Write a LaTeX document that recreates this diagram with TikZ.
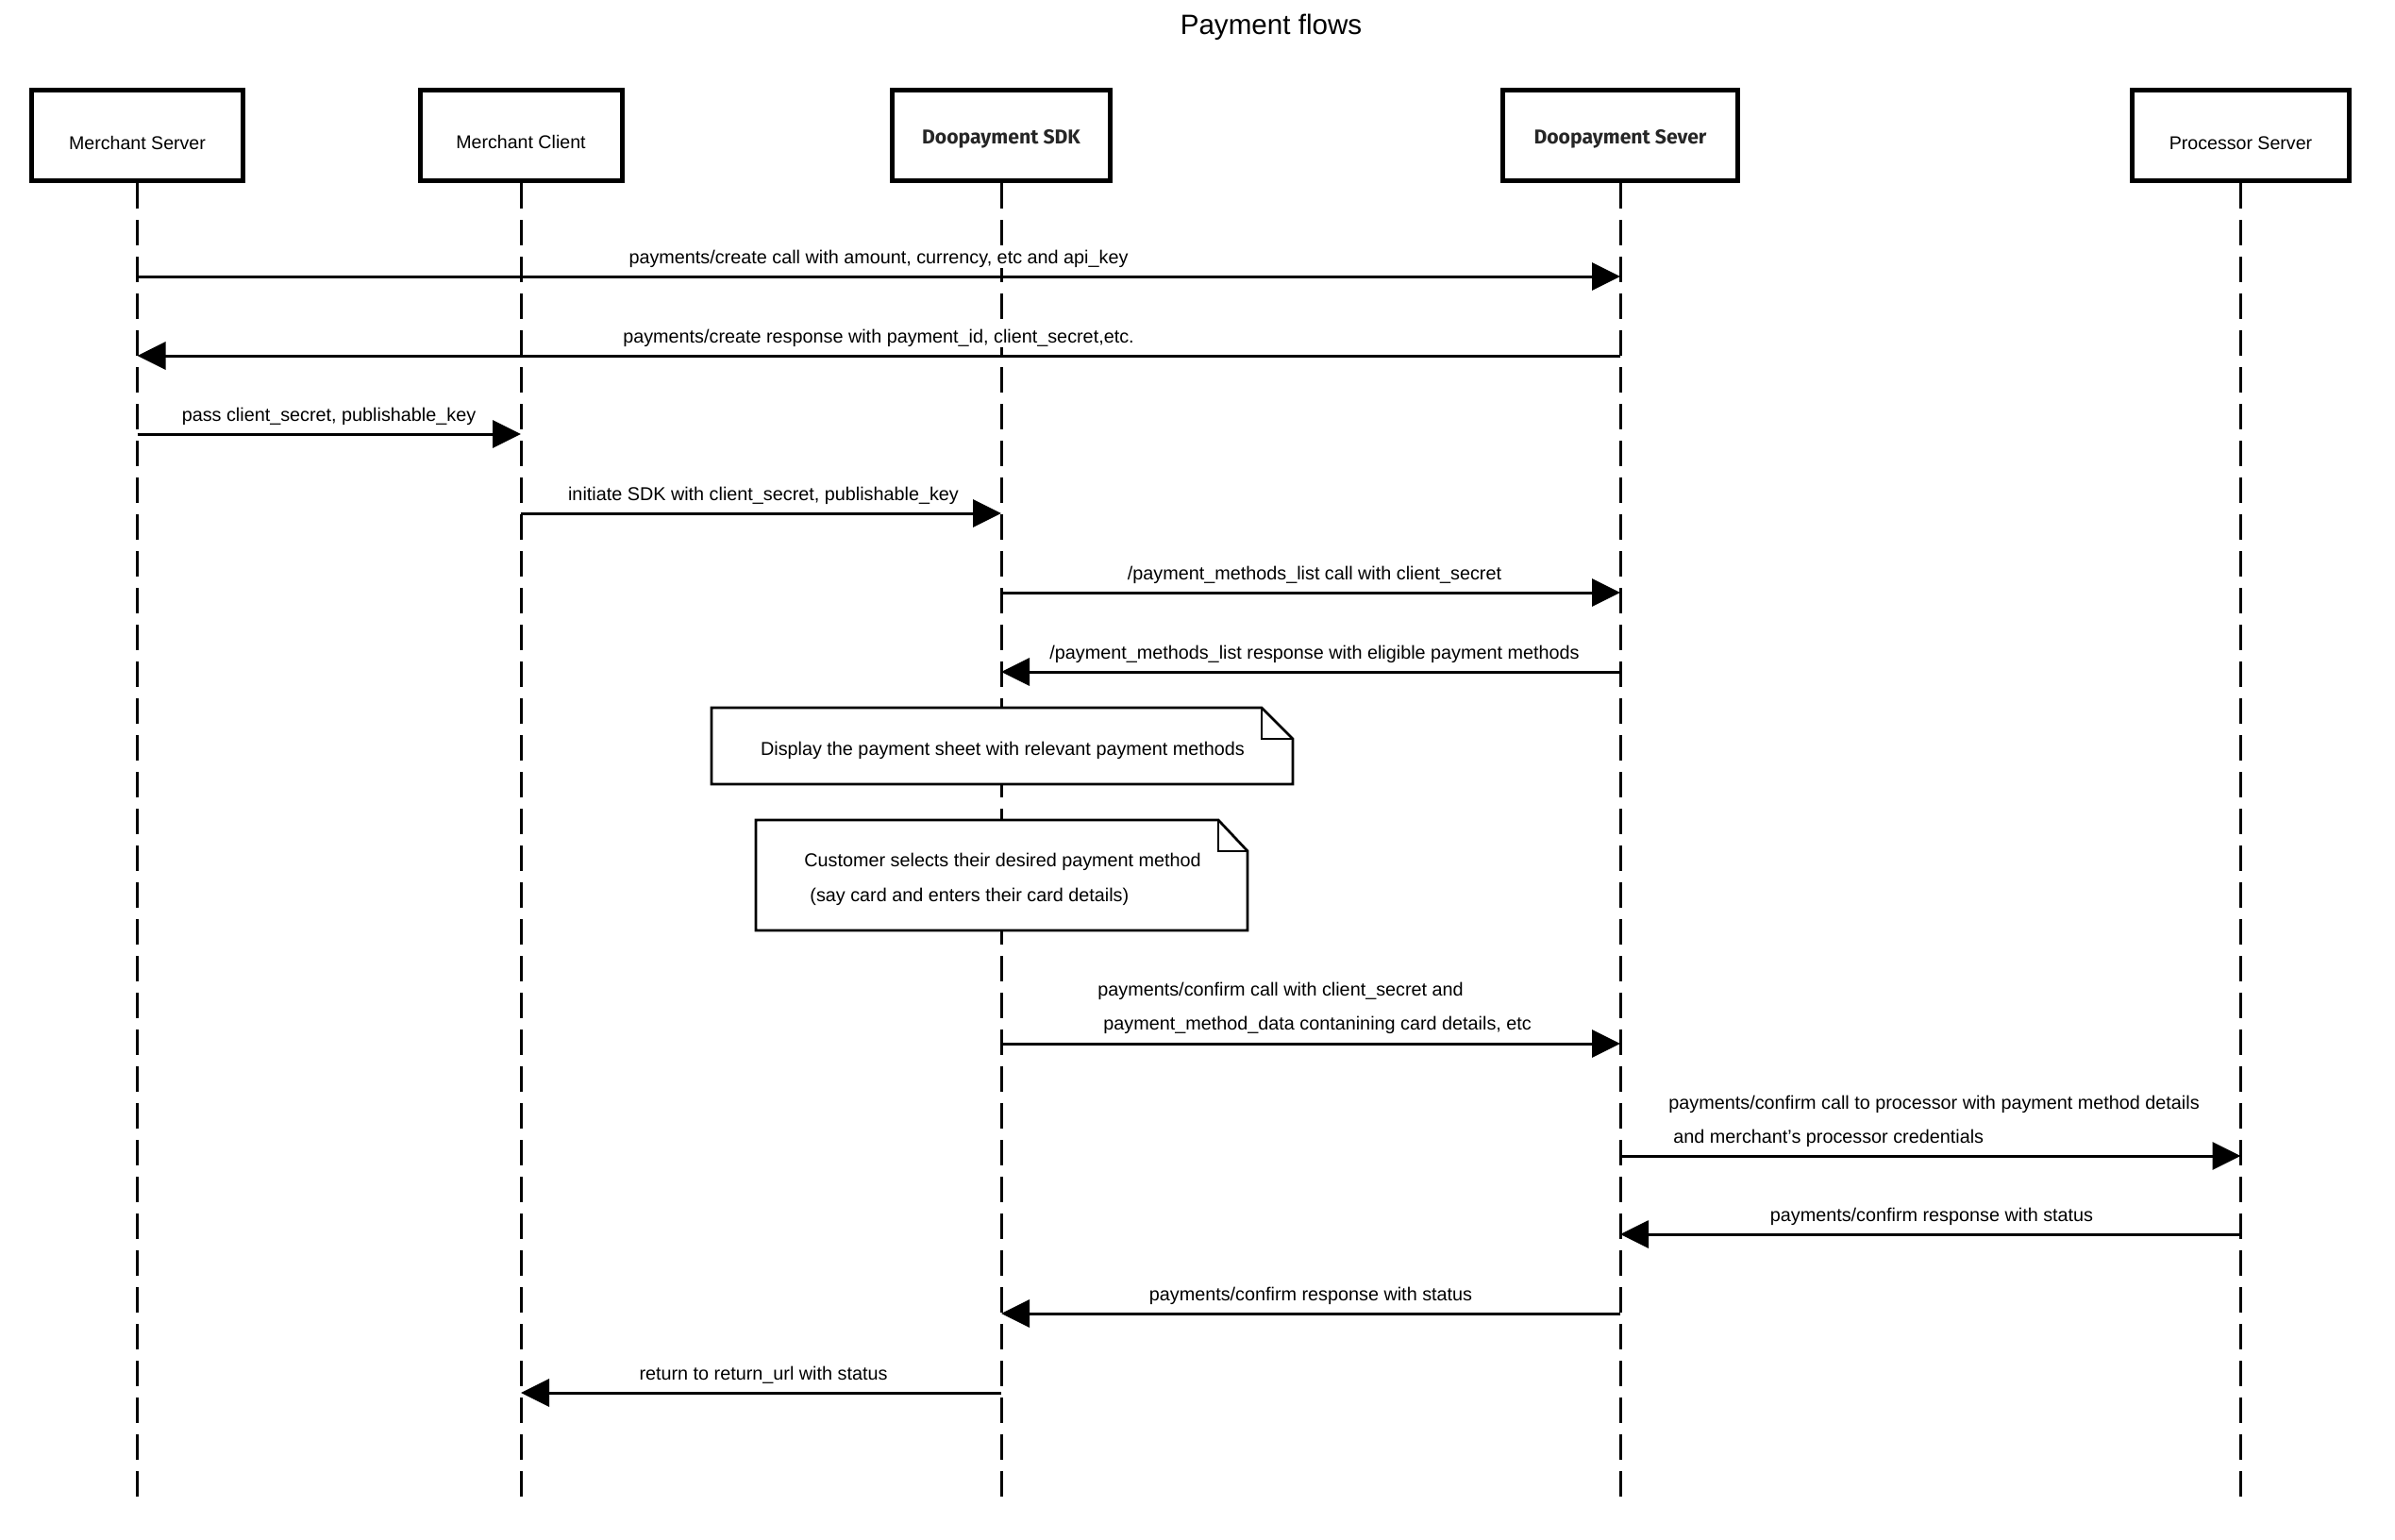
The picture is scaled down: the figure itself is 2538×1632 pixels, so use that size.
\documentclass[tikz,border=0pt]{standalone}
\usepackage{fontspec}
\setmainfont{Liberation Sans}
\newfontfamily\firab{Fira Sans}
\usetikzlibrary{arrows.meta}
\begin{document}
\begin{tikzpicture}[x=0.5pt,y=-0.5pt,
  actor/.style={draw=black, line width=2.5pt, fill=white, minimum height=48pt, inner sep=0pt},
  atext/.style={font=\fontsize{9.8pt}{12pt}\selectfont, anchor=base, inner sep=0pt},
  btext/.style={font=\firab\bfseries\fontsize{10.6pt}{12pt}\selectfont, anchor=base, inner sep=0pt, text=black!85},
  life/.style={line width=1.5pt, dash pattern=on 13.5pt off 6pt},
  msg/.style={line width=1.5pt, -{Triangle[length=15pt,width=14.5pt]}},
  lbl/.style={font=\fontsize{9.9pt}{12pt}\selectfont, inner sep=0.5pt, anchor=base, fill=white},
  lblw/.style={lbl, anchor=base west},
  notebox/.style={inner sep=0pt, draw=none},
  noteline/.style={line width=1.35pt, fill=white, line join=miter}
]
\useasboundingbox (0,0) rectangle (2538,1632);

% title
\node[font=\fontsize{14.8pt}{18pt}\selectfont, anchor=base, inner sep=0pt] (title) at (1347,37) {Payment flows};

% actor boxes
\node[actor, minimum width=112pt] (ms) at (145.5,143.5) {};
\node[actor, minimum width=107pt] (mc) at (552,143.5) {};
\node[actor, minimum width=115.5pt] (sdk) at (1061,143.5) {};
\node[actor, minimum width=124.5pt] (sev) at (1717,143.5) {};
\node[actor, minimum width=115pt] (ps) at (2374.5,143.5) {};

% lifeline ends
\coordinate (msE) at (145.5,1596);
\coordinate (mcE) at (552,1596);
\coordinate (sdkE) at (1061,1596);
\coordinate (sevE) at (1717,1596);
\coordinate (psE) at (2374.5,1596);

\draw[life] (ms.south) -- (msE);
\draw[life] (mc.south) -- (mcE);
\draw[life] (sdk.south) -- (sdkE);
\draw[life] (sev.south) -- (sevE);
\draw[life] (ps.south) -- (psE);

% redraw boxes on top of lifelines
\node[actor, minimum width=112pt] at (ms.center) {};
\node[actor, minimum width=107pt] at (mc.center) {};
\node[actor, minimum width=115.5pt] at (sdk.center) {};
\node[actor, minimum width=124.5pt] at (sev.center) {};
\node[actor, minimum width=115pt] at (ps.center) {};

\node[atext] (mst) at (145.5,158) {Merchant Server};
\node[atext] (mct) at (552,157) {Merchant Client};
\node[btext] (sdkt) at (1061,153) {Doopayment SDK};
\node[btext] (sevt) at (1717,153) {Doopayment Sever};
\node[atext] (pst) at (2374.5,158) {Processor Server};

% message labels (white background hides lifelines behind them)
\node[lbl] (l1) at (931,279) {payments/create call with amount, currency, etc and api\_key};
\node[lbl] (l2) at (931,363) {payments/create response with payment\_id, client\_secret,etc.};
\node[lbl] (l3) at (348.5,446) {pass client\_secret, publishable\_key};
\node[lbl] (l4) at (809,530) {initiate SDK with client\_secret, publishable\_key};
\node[lbl] (l5) at (1393,614) {/payment\_methods\_list call with client\_secret};
\node[lbl] (l6) at (1393,698) {/payment\_methods\_list response with eligible payment methods};
\node[lblw] (l9a) at (1162,1055) {payments/confirm call with client\_secret and};
\node[lblw] (l9b) at (1168,1091) {payment\_method\_data contanining card details, etc};
\node[lblw] (l10a) at (1767,1175) {payments/confirm call to processor with payment method details};
\node[lblw] (l10b) at (1772,1211) {and merchant's processor credentials};
\node[lbl] (l11) at (2047,1294) {payments/confirm response with status};
\node[lbl] (l12) at (1389,1378) {payments/confirm response with status};
\node[lbl] (l13) at (809,1462) {return to return\_url with status};

% messages
\draw[msg] (ms.south |- 0,293) -- (sev.south |- 0,293);
\draw[msg] (sev.south |- 0,377) -- (ms.south |- 0,377);
\draw[msg] (ms.south |- 0,460) -- (mc.south |- 0,460);
\draw[msg] (mc.south |- 0,544) -- (sdk.south |- 0,544);
\draw[msg] (sdk.south |- 0,628) -- (sev.south |- 0,628);
\draw[msg] (sev.south |- 0,712) -- (sdk.south |- 0,712);
\draw[msg] (sdk.south |- 0,1106) -- (sev.south |- 0,1106);
\draw[msg] (sev.south |- 0,1225) -- (ps.south |- 0,1225);
\draw[msg] (ps.south |- 0,1308) -- (sev.south |- 0,1308);
\draw[msg] (sev.south |- 0,1392) -- (sdk.south |- 0,1392);
\draw[msg] (sdk.south |- 0,1476) -- (mc.south |- 0,1476);

% notes
\node[notebox, minimum width=307.6pt, minimum height=40.15pt] (n1) at (1062,790.5) {};
\draw[noteline] (n1.south west) -- (n1.north west) -- ([xshift=-16.5pt]n1.north east) -- ([yshift=-16.5pt]n1.north east) -- (n1.south east) -- cycle;
\draw[noteline, fill=none] ([xshift=-16.5pt]n1.north east) -- ([xshift=-16.5pt,yshift=-16.5pt]n1.north east) -- ([yshift=-16.5pt]n1.north east);

\node[notebox, minimum width=260.15pt, minimum height=58.15pt] (n2) at (1061.5,927.5) {};
\draw[noteline] (n2.south west) -- (n2.north west) -- ([xshift=-15.5pt]n2.north east) -- ([yshift=-16.5pt]n2.north east) -- (n2.south east) -- cycle;
\draw[noteline, fill=none] ([xshift=-15.5pt]n2.north east) -- ([xshift=-15.5pt,yshift=-16.5pt]n2.north east) -- ([yshift=-16.5pt]n2.north east);

\node[lbl] (n1t) at (1062.5,800) {Display the payment sheet with relevant payment methods};
\node[lblw] (n2a) at (851,918) {Customer selects their desired payment method};
\node[lblw] (n2b) at (857,955) {(say card and enters their card details)};
\end{tikzpicture}
\end{document}
